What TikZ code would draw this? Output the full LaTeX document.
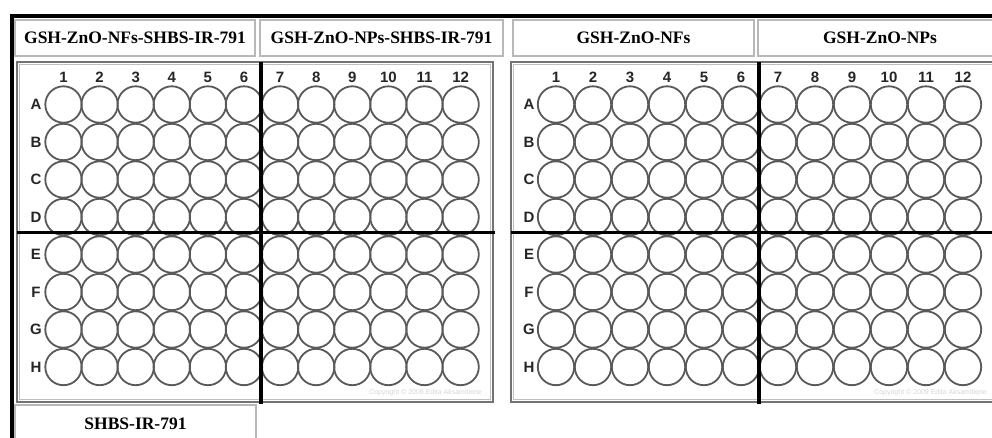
\documentclass[tikz,border=0pt]{standalone}
\usepackage{fontspec}
\setmainfont{Liberation Serif}
\setsansfont{Liberation Sans}
\begin{document}
\begin{tikzpicture}[x=1pt,y=-1pt,
  well/.style={circle,draw=black!65,line width=1.8pt,minimum size=36.4pt,inner sep=0pt},
  lab/.style={font=\sffamily\bfseries\fontsize{15}{15}\selectfont,text=black!85,inner sep=0pt},
  tagbox/.style={draw=black!28,line width=1.4pt,font=\bfseries\fontsize{17.5}{17.5}\selectfont,inner sep=0pt},
  divider/.style={line width=3.6pt,draw=black},
  platebox/.style={draw=black!55,line width=1.6pt},
  copytext/.style={font=\sffamily\fontsize{7}{7}\selectfont,text=black!16,inner sep=0pt}
]
\useasboundingbox (0,0) rectangle (992,438);
\clip (0,0) rectangle (992,438);
\fill[white] (0,0) rectangle (992,438);

% label boxes
\node[tagbox,minimum width=240pt,minimum height=36pt] (t1) at (135,38) {GSH-ZnO-NFs-SHBS-IR-791};
\node[tagbox,minimum width=243pt,minimum height=36pt] (t2) at (381.5,38) {GSH-ZnO-NPs-SHBS-IR-791};
\node[tagbox,minimum width=241pt,minimum height=36pt] (t3) at (633.5,38) {GSH-ZnO-NFs};
\node[tagbox,minimum width=244pt,minimum height=36pt] (t4) at (880,38) {GSH-ZnO-NPs};
\node[tagbox,minimum width=241pt,minimum height=38pt] (t5) at (135.5,424) {SHBS-IR-791};

% plates
\draw[platebox] (17,62) rectangle (493,402);
\draw[draw=black!25,line width=0.8pt] (19.5,64.5) rectangle (490.5,399.5);
\draw[platebox] (511,62) rectangle (1000,402);
\draw[draw=black!25,line width=0.8pt] (513.5,64.5) rectangle (1000,399.5);

% column labels
\foreach \c in {1,...,12} {
  \node[lab] (LC\c) at ({63.5+36.1*(\c-1)},77) {\c};
  \node[lab] (RC\c) at ({556+37*(\c-1)},77) {\c};
}
% rows of wells
\foreach \r [count=\i from 0] in {A,B,C,D,E,F,G,H} {
  \node[lab] (LR\r) at (36,{104.5+37.5*\i}) {\r};
  \node[lab] (RR\r) at (529,{104.5+37.5*\i}) {\r};
  \foreach \c in {1,...,12} {
    \node[well] (L\r\c) at ({63.5+36.1*(\c-1)},{104.5+37.5*\i}) {};
    \node[well] (R\r\c) at ({556+37*(\c-1)},{104.5+37.5*\i}) {};
  }
}

% copyright
\node[copytext,anchor=east] (cpL) at (482,393) {Copyright \copyright{} 2009 Edita Aksamitiene};
\node[copytext,anchor=east] (cpR) at (987,393) {Copyright \copyright{} 2009 Edita Aksamitiene};

% quadrant dividers
\draw[divider] (261,62) -- (261,404);
\draw[divider] (17,232.5) -- (495,232.5);
\draw[divider] (759,62) -- (759,404);
\draw[divider] (511,232.5) -- (992,232.5);

% frame
\draw[line width=3.6pt,black] (10,16) -- (992,16);
\draw[line width=4pt,black] (12,14.2) -- (12,438);
\end{tikzpicture}
\end{document}
